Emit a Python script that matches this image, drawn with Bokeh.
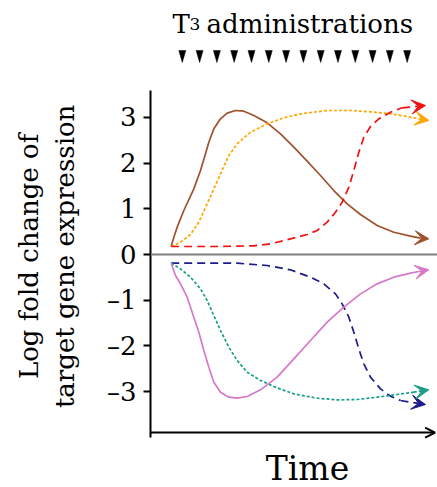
from bokeh.plotting import figure
from bokeh.models import Range1d, FixedTicker, Arrow, VeeHead, OpenHead, Span
from bokeh.core.properties import value
from bokeh.embed import file_html
from bokeh.resources import INLINE

# ---- data (time in arbitrary units, log fold change) ----
brown_t = [0.741, 0.836, 0.956, 1.195, 1.553, 1.792, 1.971, 2.091, 2.27, 2.509, 2.748, 3.047, 3.345,
           3.704, 4.182, 4.659, 5.137, 5.615, 6.093, 6.571, 7.049, 7.527, 8.124, 8.722, 9.319, 9.677, 9.976]
brown_v = [0.175, 0.379, 0.598, 0.963, 1.437, 1.838, 2.203, 2.458, 2.75, 2.969, 3.093, 3.151, 3.136,
           3.042, 2.881, 2.641, 2.349, 2.042, 1.729, 1.400, 1.109, 0.875, 0.635, 0.488, 0.401, 0.357, 0.343]

orange_t = [0.741, 1.075, 1.434, 1.732, 2.031, 2.27, 2.509, 2.808, 3.106, 3.584, 4.182, 4.779, 5.376,
            6.332, 7.168, 7.885, 8.602, 9.199, 9.618, 9.976]
orange_v = [0.175, 0.270, 0.438, 0.708, 1.109, 1.437, 1.765, 2.166, 2.421, 2.677, 2.859, 2.991, 3.078,
            3.151, 3.151, 3.122, 3.078, 3.020, 2.969, 2.932]

red_t = [0.741, 1.434, 2.389, 3.704, 4.301, 5.018, 5.615, 5.974, 6.332, 6.631, 6.870, 7.109, 7.288,
         7.467, 7.646, 7.885, 8.184, 8.602, 9.02, 9.857]
red_v = [0.175, 0.175, 0.175, 0.19, 0.233, 0.343, 0.438, 0.525, 0.708, 0.926, 1.145, 1.473, 1.838,
         2.239, 2.567, 2.801, 2.969, 3.114, 3.210, 3.260]

navy_t = [0.741, 1.792, 3.106, 4.182, 5.018, 5.735, 6.213, 6.631, 6.870, 7.109, 7.288, 7.467, 7.646,
          7.885, 8.244, 8.602, 8.961, 9.857]
navy_v = [-0.190, -0.190, -0.190, -0.241, -0.335, -0.496, -0.642, -0.861, -1.080, -1.371, -1.700,
          -2.064, -2.392, -2.684, -2.939, -3.100, -3.195, -3.282]

teal_t = [0.741, 1.075, 1.434, 1.792, 2.031, 2.270, 2.509, 2.808, 3.106, 3.465, 3.943, 4.540, 5.137,
          5.974, 6.691, 7.407, 8.124, 8.841, 9.438, 9.976]
teal_v = [-0.190, -0.314, -0.496, -0.751, -1.007, -1.335, -1.663, -2.028, -2.319, -2.575, -2.757,
          -2.918, -3.049, -3.144, -3.180, -3.173, -3.122, -3.063, -3.012, -2.961]

pink_t = [0.741, 0.896, 1.075, 1.314, 1.553, 1.732, 1.912, 2.091, 2.270, 2.509, 2.808, 3.106, 3.465,
          3.943, 4.540, 5.137, 5.735, 6.332, 6.930, 7.527, 8.124, 8.722, 9.319, 9.618, 9.976]
pink_v = [-0.190, -0.460, -0.642, -0.934, -1.371, -1.700, -2.101, -2.465, -2.794, -3.012, -3.122,
          -3.144, -3.107, -2.961, -2.684, -2.283, -1.882, -1.481, -1.152, -0.861, -0.642, -0.496,
          -0.408, -0.372, -0.335]

admin_times = [1.14, 1.76, 2.38, 3.00, 3.62, 4.24, 4.86, 5.48, 6.10, 6.72, 7.34, 7.96, 8.58, 9.20]

y_ticks = [-3, -2, -1, 0, 1, 2, 3]
y_tick_labels = ["\u20133", "\u20132", "\u20131", "0", "1", "2", "3"]

SERIF = "DejaVu Serif"
PAD = "\u00a0\u00a0\u00a0"

p = figure(width=437, height=487, output_backend="svg", toolbar_location=None,
           x_range=Range1d(0, 10.287), y_range=Range1d(-5.098, 5.558),
           x_axis_location=None,
           min_border_left=150, min_border_right=0, min_border_top=0, min_border_bottom=0)
p.outline_line_color = None
p.grid.visible = False
p.background_fill_color = "white"

# y axis
ax = p.yaxis[0]
ax.ticker = FixedTicker(ticks=y_ticks)
ax.major_label_overrides = {t: l for t, l in zip(y_ticks, y_tick_labels)}
ax.bounds = (-4.0, 3.59)
ax.axis_line_width = 2
ax.axis_line_color = "black"
ax.major_tick_line_width = 2
ax.major_tick_out = 7
ax.major_tick_in = 0
ax.minor_tick_line_color = None
ax.major_label_text_font = SERIF
ax.major_label_text_font_size = "26px"
ax.major_label_text_color = "black"
ax.major_label_standoff = 7
ax.axis_label = "Log fold change of" + PAD + "\ntarget gene expression" + PAD
ax.axis_label_text_font = SERIF
ax.axis_label_text_font_style = "normal"
ax.axis_label_text_font_size = "26px"
ax.axis_label_text_color = "black"
ax.axis_label_standoff = 24

# zero line
p.add_layout(Span(location=0, dimension="width", line_color="#808080", line_width=2))

# time axis with arrow
x_axis_y = -3.895
p.add_layout(Arrow(end=OpenHead(size=10, line_width=2, line_color="black"),
                   x_start=0, y_start=x_axis_y, x_end=10.2, y_end=x_axis_y,
                   line_width=2, line_color="black"))

series = [
    (brown_t, brown_v, "#A0522D", "solid"),
    (orange_t, orange_v, "#FFA500", "3 2"),
    (red_t, red_v, "#F01010", "8 5"),
    (navy_t, navy_v, "#1C1C8C", "8 5"),
    (teal_t, teal_v, "#1A9E88", "3 2"),
    (pink_t, pink_v, "#D878C8", "solid"),
]
for t, v, c, dash in series:
    p.line(t[:-1], v[:-1], line_color=c, line_width=1.7, line_dash=dash)
    p.add_layout(Arrow(end=VeeHead(size=14, fill_color=c, line_color=c, line_width=1),
                       x_start=t[-2], y_start=v[-2], x_end=t[-1], y_end=v[-1],
                       line_color=c, line_width=1.7, line_dash=dash))

# administration markers
hw = 0.125
tri_top, tri_bot = 4.464, 4.201
p.patches([[a - hw, a + hw, a] for a in admin_times],
          [[tri_top, tri_top, tri_bot] for _ in admin_times],
          fill_color="black", line_color="black", line_width=0.5)

# header text
base_y = 5.04
p.text(x=[0.789], y=[base_y], text=["T"], text_font=value(SERIF), text_font_size="26px",
       text_align="left", text_baseline="alphabetic", text_color="black")
p.text(x=[1.40], y=[base_y], text=["3"], text_font=value(SERIF), text_font_size="17px",
       text_align="left", text_baseline="alphabetic", text_color="black")
p.text(x=[2.01], y=[base_y], text=["administrations"], text_font=value(SERIF), text_font_size="26px",
       text_align="left", text_baseline="alphabetic", text_color="black")

# x label
p.text(x=[5.627], y=[-4.69], text=["Time"], text_font=value(SERIF), text_font_size="33px",
       text_align="center", text_baseline="alphabetic", text_color="black")

open("out.html", "w").write(file_html(p, INLINE))
